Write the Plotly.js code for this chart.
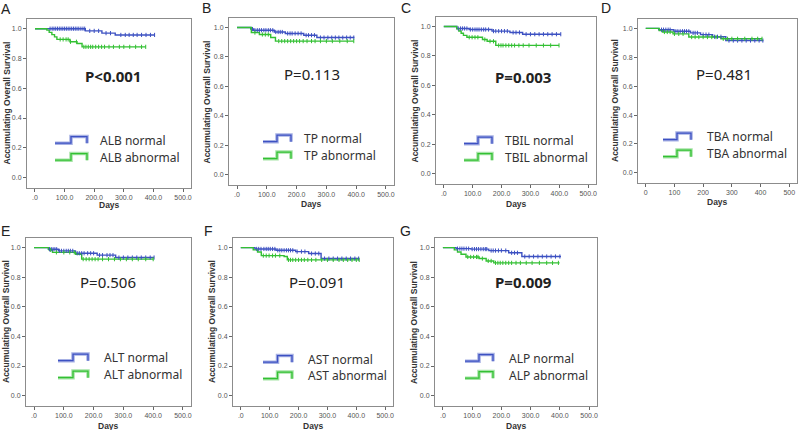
<!DOCTYPE html>
<html>
<head>
<meta charset="utf-8">
<script src="https://cdn.plot.ly/plotly-3.0.1.min.js"></script>
<style>
  html, body { margin: 0; padding: 0; background: #fff; }
  #chart { width: 800px; height: 430px; }
</style>
</head>
<body>
<div id="chart"></div>
<script>
// panel letters, marker names, p values
var panelLetters = ['A', 'B', 'C', 'D', 'E', 'F', 'G'];
var markerNames = ['ALB', 'TP', 'TBIL', 'TBA', 'ALT', 'AST', 'ALP'];
var pTexts = ['P<0.001', 'P=0.113', 'P=0.003', 'P=0.481', 'P=0.506', 'P=0.091', 'P=0.009'];
var pBold = [true, false, true, false, false, false, true];

// tick labels
var xTickVals = [0, 100, 200, 300, 400, 500];
var xTickText = ['.0', '100.0', '200.0', '300.0', '400.0', '500.0'];
var xTickTextD = ['0', '100', '200', '300', '400', '500'];
var yTickVals = [0, 0.2, 0.4, 0.6, 0.8, 1.0];
var yTickText = ['0.0', '0.2', '0.4', '0.6', '0.8', '1.0'];

// --- survival steps (days, survival) and censored days ---
// A: ALB
var albNormalDays = [0, 170, 226, 271, 405];
var albNormalSurv = [1.0, 0.985, 0.97, 0.958, 0.958];
var albNormalCens = [51, 58, 64, 70, 76, 82, 88, 94, 100, 106, 112, 118, 124, 130, 136, 142, 148, 155, 162, 168, 185, 200, 215, 240, 255, 290, 305, 318, 332, 345, 360, 375, 390, 404];
var albAbnormalDays = [0, 40, 48, 57, 66, 74, 118, 142, 159, 374];
var albAbnormalSurv = [1.0, 0.99, 0.975, 0.96, 0.945, 0.928, 0.912, 0.9, 0.878, 0.878];
var albAbnormalCens = [85, 95, 105, 112, 120, 140, 165, 172, 180, 188, 195, 205, 215, 225, 235, 250, 265, 285, 300, 320, 340, 360, 374];

// B: TP
var tpNormalDays = [0, 46, 55, 125, 162, 224, 268, 394];
var tpNormalSurv = [1.0, 0.99, 0.982, 0.97, 0.96, 0.948, 0.932, 0.932];
var tpNormalCens = [52, 60, 68, 75, 82, 90, 97, 105, 112, 120, 130, 138, 145, 152, 170, 178, 185, 195, 205, 215, 232, 240, 250, 260, 280, 292, 305, 318, 330, 342, 355, 368, 380, 392];
var tpAbnormalDays = [0, 48, 75, 113, 129, 392];
var tpAbnormalSurv = [1.0, 0.966, 0.953, 0.932, 0.908, 0.908];
var tpAbnormalCens = [60, 85, 95, 105, 140, 150, 160, 170, 180, 190, 200, 210, 222, 235, 250, 262, 280, 300, 320, 345, 370, 392];

// C: TBIL
var tbilNormalDays = [0, 45, 88, 167, 229, 273, 405];
var tbilNormalSurv = [1.0, 0.987, 0.98, 0.969, 0.96, 0.948, 0.948];
var tbilNormalCens = [50, 58, 65, 72, 80, 92, 100, 108, 115, 122, 130, 138, 145, 155, 172, 180, 190, 200, 210, 220, 240, 250, 262, 285, 300, 315, 330, 345, 360, 375, 390, 405];
var tbilAbnormalDays = [0, 45, 52, 60, 68, 80, 134, 150, 180, 399];
var tbilAbnormalSurv = [1.0, 0.985, 0.97, 0.955, 0.94, 0.927, 0.912, 0.9, 0.872, 0.872];
var tbilAbnormalCens = [88, 98, 108, 118, 142, 160, 172, 190, 198, 205, 215, 225, 235, 245, 260, 275, 295, 320, 345, 370, 399];

// D: TBA
var tbaNormalDays = [0, 45, 98, 156, 191, 233, 279, 410];
var tbaNormalSurv = [1.0, 0.991, 0.98, 0.969, 0.957, 0.942, 0.916, 0.916];
var tbaNormalCens = [55, 62, 70, 78, 85, 105, 112, 120, 128, 135, 142, 150, 165, 172, 180, 200, 210, 220, 240, 250, 262, 290, 305, 320, 335, 350, 365, 380, 395, 408];
var tbaAbnormalDays = [0, 47, 58, 95, 150, 262, 405];
var tbaAbnormalSurv = [1.0, 0.985, 0.975, 0.962, 0.94, 0.928, 0.928];
var tbaAbnormalCens = [65, 75, 85, 100, 115, 130, 160, 172, 185, 200, 215, 230, 245, 270, 285, 300, 320, 345, 370, 390, 405];

// E: ALT
var altNormalDays = [0, 48, 82, 139, 212, 274, 403];
var altNormalSurv = [1.0, 0.989, 0.978, 0.962, 0.949, 0.933, 0.933];
var altNormalCens = [52, 58, 64, 70, 76, 85, 92, 100, 108, 115, 122, 130, 145, 152, 160, 168, 180, 190, 200, 220, 230, 245, 255, 265, 285, 300, 315, 330, 345, 360, 375, 390, 403];
var altAbnormalDays = [0, 50, 62, 140, 160, 401];
var altAbnormalSurv = [1.0, 0.985, 0.968, 0.955, 0.922, 0.922];
var altAbnormalCens = [55, 75, 100, 120, 135, 165, 175, 185, 195, 205, 215, 230, 250, 270, 290, 310, 330, 350, 375, 400];

// F: AST
var astNormalDays = [0, 49, 122, 190, 235, 278, 410];
var astNormalSurv = [1.0, 0.991, 0.982, 0.973, 0.96, 0.926, 0.926];
var astNormalCens = [55, 62, 70, 80, 88, 95, 102, 110, 118, 128, 135, 142, 150, 158, 165, 172, 180, 195, 210, 222, 245, 258, 270, 290, 305, 320, 335, 350, 365, 380, 395, 408];
var astAbnormalDays = [0, 43, 58, 71, 150, 161, 410];
var astAbnormalSurv = [1.0, 0.985, 0.97, 0.946, 0.94, 0.917, 0.917];
var astAbnormalCens = [78, 88, 98, 110, 120, 135, 165, 172, 180, 190, 200, 210, 220, 232, 245, 260, 280, 300, 320, 340, 355, 370, 385, 400, 410];

// G: ALP
var alpNormalDays = [0, 45, 96, 157, 225, 270, 404];
var alpNormalSurv = [1.0, 0.993, 0.99, 0.98, 0.965, 0.94, 0.94];
var alpNormalCens = [50, 58, 65, 72, 80, 88, 100, 108, 115, 122, 130, 138, 145, 150, 165, 172, 180, 190, 200, 215, 235, 245, 255, 280, 295, 310, 325, 340, 355, 370, 385, 400];
var alpAbnormalDays = [0, 39, 50, 62, 79, 124, 148, 174, 399];
var alpAbnormalSurv = [1.0, 0.985, 0.97, 0.955, 0.937, 0.926, 0.91, 0.897, 0.897];
var alpAbnormalCens = [85, 95, 105, 115, 120, 135, 155, 165, 180, 188, 196, 205, 215, 225, 235, 250, 265, 285, 305, 330, 355, 375, 395];

var normalSets = [
  [albNormalDays, albNormalSurv, albNormalCens],
  [tpNormalDays, tpNormalSurv, tpNormalCens],
  [tbilNormalDays, tbilNormalSurv, tbilNormalCens],
  [tbaNormalDays, tbaNormalSurv, tbaNormalCens],
  [altNormalDays, altNormalSurv, altNormalCens],
  [astNormalDays, astNormalSurv, astNormalCens],
  [alpNormalDays, alpNormalSurv, alpNormalCens]
];
var abnormalSets = [
  [albAbnormalDays, albAbnormalSurv, albAbnormalCens],
  [tpAbnormalDays, tpAbnormalSurv, tpAbnormalCens],
  [tbilAbnormalDays, tbilAbnormalSurv, tbilAbnormalCens],
  [tbaAbnormalDays, tbaAbnormalSurv, tbaAbnormalCens],
  [altAbnormalDays, altAbnormalSurv, altAbnormalCens],
  [astAbnormalDays, astAbnormalSurv, astAbnormalCens],
  [alpAbnormalDays, alpAbnormalSurv, alpAbnormalCens]
];

// --- layout (pixels in the 800x430 picture) ---
var W = 800, H = 430;
// plot box: left, right, top, bottom
var boxes = [[27, 191, 19, 188], [229, 394, 18, 185], [436, 596, 17, 184], [638, 797, 19, 183],
             [26, 191, 238, 406], [233, 393, 238, 406], [435, 597, 238, 406]];
// legend: symbol x0, symbol x1, text x, normal row y, abnormal row y
var legendPos = [[55, 87, 98, 140, 157], [263, 291, 302, 138.5, 155.5], [464, 492, 503, 140.5, 157],
                 [663, 691, 705, 136.5, 153.5], [58, 88, 102, 357.5, 374.5], [263, 292, 306, 359, 375.5],
                 [465, 493, 507, 358, 375]];
var pPos = [[113, 76], [312, 74], [523, 77], [724, 74], [108, 282], [317, 282], [523, 282]];
var letterPos = [[6, 9], [206, 8], [406, 8], [606, 8], [5, 231], [208, 231], [405, 231]];
var yTitleX = [6, 207, 414, 615, 6, 212, 414];
var daysY = [205, 204, 204, 202, 426, 426, 426];

var blue = '#3d51c2';
var green = '#33c033';

function px(x) { return x / W; }
function py(y) { return 1 - y / H; }

function survAt(days, surv, t) {
  var s = surv[0];
  for (var i = 0; i < days.length; i++) {
    if (days[i] <= t) s = surv[i];
  }
  return s;
}

var data = [];
var layout = {
  width: W, height: H,
  margin: {l: 0, r: 0, t: 0, b: 0},
  paper_bgcolor: '#fff',
  plot_bgcolor: '#fff',
  showlegend: false,
  font: {family: 'Liberation Sans, Arial, sans-serif', color: '#333'},
  annotations: [],
  shapes: []
};

for (var p = 0; p < 7; p++) {
  var sfx = p === 0 ? '' : String(p + 1);
  var xa = 'x' + sfx, ya = 'y' + sfx;
  var b = boxes[p];

  var sets = [[normalSets[p], blue], [abnormalSets[p], green]];
  sets.forEach(function (s) {
    var d = s[0];
    data.push({
      x: d[0], y: d[1], xaxis: xa, yaxis: ya,
      type: 'scatter', mode: 'lines',
      line: {color: s[1], width: 1.4, shape: 'hv'},
      hoverinfo: 'skip'
    });
  });
  sets.forEach(function (s) {
    var d = s[0];
    data.push({
      x: d[2], y: d[2].map(function (t) { return survAt(d[0], d[1], t); }),
      xaxis: xa, yaxis: ya,
      type: 'scatter', mode: 'markers',
      marker: {symbol: 'line-ns-open', size: 3, color: s[1], line: {color: s[1], width: 1}},
      hoverinfo: 'skip'
    });
  });

  layout['xaxis' + sfx] = {
    domain: [px(b[0]), px(b[1])],
    anchor: ya,
    range: [-27, 527],
    tickvals: xTickVals,
    ticktext: p === 3 ? xTickTextD : xTickText,
    ticks: 'outside', ticklen: 3, tickcolor: '#666',
    tickfont: {size: 7, color: '#555'},
    showline: true, mirror: true, linecolor: '#8c8c8c', linewidth: 1,
    showgrid: false, zeroline: false, fixedrange: true
  };
  layout['yaxis' + sfx] = {
    domain: [py(b[3]), py(b[2])],
    anchor: xa,
    range: [-0.07, 1.065],
    tickvals: yTickVals,
    ticktext: yTickText,
    ticks: 'outside', ticklen: 3, tickcolor: '#666',
    tickfont: {size: 7, color: '#555'},
    showline: true, mirror: true, linecolor: '#8c8c8c', linewidth: 1,
    showgrid: false, zeroline: false, fixedrange: true
  };

  // panel letter
  layout.annotations.push({
    text: panelLetters[p], xref: 'paper', yref: 'paper',
    x: px(letterPos[p][0]), y: py(letterPos[p][1]), xanchor: 'center', yanchor: 'middle',
    showarrow: false, font: {family: 'Liberation Sans, Arial', size: 14, color: '#222'}
  });
  // p value
  layout.annotations.push({
    text: pBold[p] ? '<b>' + pTexts[p] + '</b>' : pTexts[p],
    xref: 'paper', yref: 'paper',
    x: px(pPos[p][0]), y: py(pPos[p][1]), xanchor: 'center', yanchor: 'middle',
    showarrow: false, font: {family: 'Noto Sans, sans-serif', size: 15, color: '#222'}
  });
  // axis titles
  layout.annotations.push({
    text: '<b>Accumulating Overall Survival</b>', xref: 'paper', yref: 'paper',
    x: px(yTitleX[p]), y: py((b[2] + b[3]) / 2), xanchor: 'center', yanchor: 'middle',
    textangle: -90, showarrow: false,
    font: {family: 'Liberation Sans, Arial', size: 8.5, color: '#333'}
  });
  layout.annotations.push({
    text: '<b>Days</b>', xref: 'paper', yref: 'paper',
    x: px((b[0] + b[1]) / 2), y: py(daysY[p]), xanchor: 'center', yanchor: 'middle',
    showarrow: false, font: {family: 'Liberation Sans, Arial', size: 8.5, color: '#333'}
  });

  // legend rows: step symbol + label
  var lg = legendPos[p];
  var rows = [[lg[3], blue, '#a7b1e4', markerNames[p] + ' normal'],
              [lg[4], green, '#a6e4a6', markerNames[p] + ' abnormal']];
  rows.forEach(function (r) {
    var lo = r[0] + 3.2, up = r[0] - 3.4, xm = (lg[0] + lg[1]) / 2;
    var path = 'M' + px(lg[0]) + ',' + py(lo) + ' L' + px(xm) + ',' + py(lo) +
               ' L' + px(xm) + ',' + py(up) + ' L' + px(lg[1]) + ',' + py(up) +
               ' L' + px(lg[1]) + ',' + py(lo);
    layout.shapes.push({type: 'path', xref: 'paper', yref: 'paper', path: path,
                        line: {color: r[2], width: 3.5}});
    layout.shapes.push({type: 'path', xref: 'paper', yref: 'paper', path: path,
                        line: {color: r[1], width: 1.3}});
    layout.annotations.push({
      text: r[3], xref: 'paper', yref: 'paper',
      x: px(lg[2]), y: py(r[0]), xanchor: 'left', yanchor: 'middle',
      showarrow: false, font: {family: 'Noto Sans, sans-serif', size: 12, color: '#333'}
    });
  });
}

Plotly.newPlot('chart', data, layout, {staticPlot: true, displayModeBar: false});
</script>
</body>
</html>
